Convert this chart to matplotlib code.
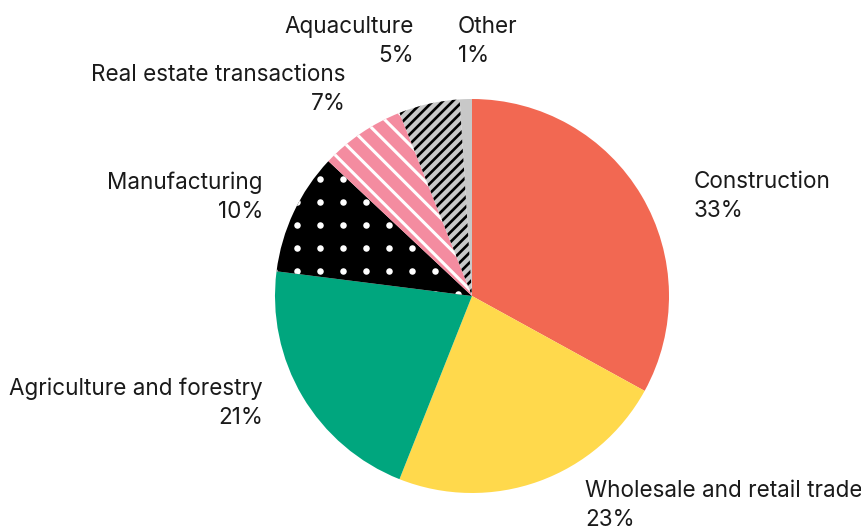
import matplotlib
matplotlib.use('Agg')
import matplotlib.pyplot as plt
from matplotlib.collections import LineCollection
import numpy as np

# ---- data ----
categories = ['Construction', 'Wholesale and retail trade', 'Agriculture and forestry',
              'Manufacturing', 'Real estate transactions', 'Aquaculture', 'Other']
shares = [33, 23, 21, 10, 7, 5, 1]
pct_labels = [f'{v}%' for v in shares]

# ---- style ----
colors = ['#F26852', '#FFD94C', '#00A67E', '#000000', '#F48CA0', '#C8C8C8', '#C8C8C8']
# label layout in pixel coords: (x, y of first line center, ha)
label_layout = [
    (694, 182, 'left'),
    (585, 491, 'left'),
    (263, 389, 'right'),
    (263, 183, 'right'),
    (346, 75, 'right'),
    (414, 27, 'right'),
    (458, 27, 'left'),
]
plt.rcParams['font.family'] = ['Inter', 'DejaVu Sans']

W, H = 862, 532
fig = plt.figure(figsize=(W / 100, H / 100), dpi=100)
ax = fig.add_axes([0, 0, 1, 1])
cx, cy, r = 472, H - 296, 197

wedges, _ = ax.pie(shares, colors=colors, startangle=90, counterclock=False,
                   center=(cx, cy), radius=r, wedgeprops=dict(linewidth=0))
ax.set_xlim(0, W)
ax.set_ylim(0, H)
ax.set_aspect('equal')
ax.axis('off')

# Manufacturing: white dots grid
w_man = wedges[3]
gx = 297.3 + 23 * np.arange(-12, 13)
gy = 179.3 + 23 * np.arange(-12, 13)
GX, GY = np.meshgrid(gx, gy)
sc = ax.scatter(GX.ravel(), H - GY.ravel(), s=22, color='white', linewidths=0, zorder=3)
sc.set_clip_path(w_man)

def stripes(wedge, slope, spacing, phase, color, lw):
    step = spacing * np.sqrt(2)
    segs = []
    x0, x1 = cx - r - 10, cx + r + 10
    cs = np.arange(-1200, 1200, step) + phase
    for c in cs:
        segs.append([(x0, slope * x0 + c), (x1, slope * x1 + c)])
    lc = LineCollection(segs, colors=color, linewidths=lw, zorder=3)
    ax.add_collection(lc)
    lc.set_clip_path(wedge)

# Real estate: white stripes, "\" direction on screen
stripes(wedges[4], -1.0, 15.0, 3.0, 'white', 2.2)
# Aquaculture: black stripes, "/" direction on screen
stripes(wedges[5], 1.0, 7.0, 0.0, 'black', 1.9)

# labels
txt_color = '#1a1a1a'
for name, pct, (x, y, ha) in zip(categories, pct_labels, label_layout):
    ax.text(x, H - y, name, ha=ha, va='center', fontsize=16.2, color=txt_color)
    ax.text(x, H - (y + 29), pct, ha=ha, va='center', fontsize=16.2, color=txt_color)

fig.savefig('out.png', dpi=100)
